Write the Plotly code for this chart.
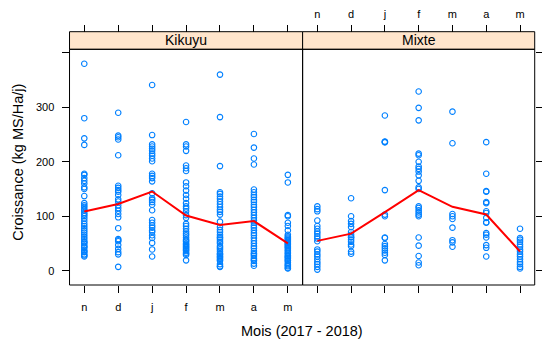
import plotly.graph_objects as go

# Months of the growing season (Nov 2017 -> May 2018)
months = ["n", "d", "j", "f", "m", "a", "m"]
panels = ["Kikuyu", "Mixte"]

# Daily growth (kg MS/Ha/j), one list per month, Kikuyu pastures
kikuyu_growth = [
    [380, 280, 243, 231, 178, 176, 170, 165, 160, 153, 150, 137, 124, 120, 117, 113,
     110, 106, 103, 100, 96, 91, 86, 82, 78, 74, 70, 66, 62, 58, 54, 50, 46, 42, 38,
     34, 30, 26, 28, 35, 44, 52],
    [290, 248, 245, 241, 212, 156, 152, 148, 145, 139, 131, 127, 120, 115, 110, 104,
     98, 78, 58, 56, 54, 47, 40, 34, 30, 7],
    [341, 249, 232, 228, 224, 220, 215, 211, 206, 201, 178, 174, 170, 164, 142, 133,
     130, 126, 121, 111, 93, 88, 83, 79, 74, 71, 65, 60, 51, 39, 26],
    [273, 232, 228, 220, 193, 188, 183, 162, 155, 147, 139, 132, 124, 118, 114, 109,
     102, 97, 86, 82, 77, 72, 68, 65, 61, 57, 55, 53, 50, 48, 46, 44, 42, 40, 38, 36,
     33, 31, 29, 19],
    [360, 282, 192, 144, 141, 136, 132, 127, 122, 117, 112, 108, 103, 90, 80, 75, 71,
     66, 62, 60, 57, 53, 50, 45, 42, 39, 35, 31, 30, 27, 25, 23, 20, 18, 12, 8, 7],
    [251, 226, 206, 195, 149, 144, 139, 135, 130, 126, 121, 117, 112, 107, 102, 97,
     92, 88, 83, 79, 74, 69, 65, 60, 55, 50, 45, 41, 36, 32, 30, 27, 23, 20, 18, 13, 9],
    [176, 162, 102, 100, 88, 82, 74, 66, 63, 61, 59, 57, 55, 53, 51, 49, 47, 45, 43,
     41, 38, 36, 33, 31, 28, 26, 24, 22, 19, 18, 15, 12, 10, 8, 5, 4],
]

# Daily growth (kg MS/Ha/j), one list per month, mixed pastures
mixte_growth = [
    [118, 113, 109, 92, 82, 77, 72, 68, 63, 59, 54, 39, 35, 30, 26, 21, 16, 12, 7, 2],
    [133, 100, 91, 86, 80, 71, 66, 62, 61, 57, 53, 48, 45, 35, 31],
    [285, 237, 236, 236, 148, 103, 100, 61, 60, 49, 45, 41, 37, 33, 29, 19],
    [329, 299, 276, 215, 212, 200, 191, 187, 182, 175, 165, 153, 150, 118, 115, 111,
     107, 103, 100, 61, 46, 27, 15, 10],
    [292, 234, 104, 100, 95, 79, 56, 52, 44],
    [236, 178, 146, 145, 126, 124, 109, 106, 97, 89, 88, 69, 66, 61, 47, 42, 26],
    [77, 60, 57, 53, 48, 44, 39, 35, 30, 26, 21, 16, 12, 7, 4],
]

y_ticks = [0, 100, 200, 300, 400]
y_ticklabels = ["0", "100", "200", "300", ""]

W, H = 542, 343
FONT = "Liberation Sans, Arial, Helvetica, sans-serif"
POINT_COL = "#0080ff"
STRIP_COL = "#ffe5cc"

# panel geometry in pixels
PX0, PXM, PX1 = 70.3, 306.0, 540.7
PY0, PY1 = 49.3, 285.0
STRIP_TOP = 31.7


def px(x):
    return x / W


def py(y):
    return 1 - y / H


XRANGE = [0.565, 7.435]
YRANGE = [-26.3, 406.5]

fig = go.Figure()

for growth, xa in ((kikuyu_growth, "x"), (mixte_growth, "x2")):
    xs, ys = [], []
    for i, vals in enumerate(growth):
        xs += [i + 1] * len(vals)
        ys += vals
    fig.add_trace(go.Scatter(
        x=xs, y=ys, xaxis=xa, yaxis="y", mode="markers",
        marker=dict(symbol="circle-open", size=5.5, color=POINT_COL,
                    line=dict(width=1.1, color=POINT_COL)),
        showlegend=False, hoverinfo="skip"))
    means = [sum(v) / len(v) for v in growth]
    fig.add_trace(go.Scatter(
        x=list(range(1, 8)), y=means, xaxis=xa, yaxis="y", mode="lines",
        line=dict(color="red", width=2), showlegend=False, hoverinfo="skip"))

# placeholder traces so the extra tick-only axes are drawn
for xa, ya in (("x3", "y"), ("x4", "y"), ("x2", "y2")):
    fig.add_trace(go.Scatter(x=[None], y=[None], xaxis=xa, yaxis=ya,
                             showlegend=False, hoverinfo="skip"))

tick_common = dict(ticks="outside", ticklen=7, tickwidth=1, tickcolor="black",
                   showgrid=False, zeroline=False, showline=False,
                   tickfont=dict(family=FONT, size=11, color="black"))

xcommon = dict(range=XRANGE, tickmode="array", tickvals=list(range(1, 8)),
               ticktext=months, **tick_common)

shapes = []
annotations = []
for label, x0, x1 in ((panels[0], PX0, PXM), (panels[1], PXM, PX1)):
    shapes.append(dict(type="rect", xref="paper", yref="paper",
                       x0=px(x0), x1=px(x1), y0=py(PY1), y1=py(PY0),
                       line=dict(color="black", width=1), fillcolor="rgba(0,0,0,0)",
                       layer="above"))
    shapes.append(dict(type="rect", xref="paper", yref="paper",
                       x0=px(x0), x1=px(x1), y0=py(PY0), y1=py(STRIP_TOP),
                       line=dict(color="black", width=1), fillcolor=STRIP_COL,
                       layer="below"))
    annotations.append(dict(text=label, xref="paper", yref="paper",
                            x=px((x0 + x1) / 2), y=py((PY0 + STRIP_TOP) / 2),
                            xanchor="center", yanchor="middle", showarrow=False,
                            font=dict(family=FONT, size=14, color="black")))

annotations.append(dict(text="Mois (2017 - 2018)", xref="paper", yref="paper",
                        x=px(305.5), y=py(331), xanchor="center", yanchor="middle",
                        showarrow=False, font=dict(family=FONT, size=14.5, color="black")))
annotations.append(dict(text="Croissance (kg MS/Ha/j)", xref="paper", yref="paper",
                        x=px(18), y=py(162), xanchor="center", yanchor="middle",
                        textangle=-90, showarrow=False,
                        font=dict(family=FONT, size=14.5, color="black")))

fig.update_layout(
    width=W, height=H, autosize=False,
    margin=dict(l=0, r=0, t=0, b=0),
    paper_bgcolor="white", plot_bgcolor="white",
    xaxis=dict(domain=[px(PX0), px(PXM)], anchor="y", ticklabelstandoff=5, **xcommon),
    xaxis2=dict(domain=[px(PXM), px(PX1)], anchor="y", showticklabels=False, **xcommon),
    xaxis3=dict(overlaying="x", side="top", anchor="free", position=py(STRIP_TOP),
                showticklabels=False, **xcommon),
    xaxis4=dict(overlaying="x2", side="top", anchor="free", position=py(STRIP_TOP),
                ticklabelstandoff=2, **xcommon),
    yaxis=dict(domain=[py(PY1), py(PY0)], anchor="x", range=YRANGE, tickmode="array",
               tickvals=y_ticks, ticktext=y_ticklabels, ticklabelstandoff=5, **tick_common),
    yaxis2=dict(overlaying="y", side="right", anchor="x2", range=YRANGE,
                tickmode="array", tickvals=y_ticks, showticklabels=False, **tick_common),
    shapes=shapes,
    annotations=annotations,
)

fig.write_html("out.html")
